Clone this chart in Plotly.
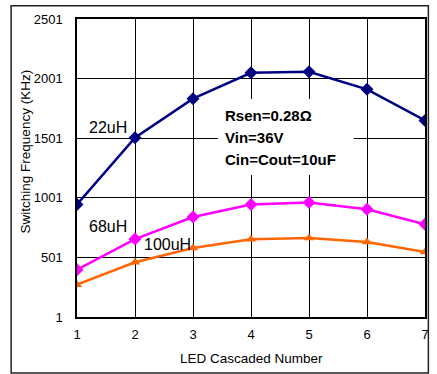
import plotly.graph_objects as go

led_count = [1, 2, 3, 4, 5, 6, 7]
freq_22uh = [945, 1505, 1833, 2050, 2059, 1911, 1650]
freq_68uh = [398, 655, 840, 945, 961, 905, 779]
freq_100uh = [272, 460, 580, 653, 664, 630, 546]
y_ticks = [1, 501, 1001, 1501, 2001, 2501]

font = "Liberation Sans, Arial, sans-serif"

fig = go.Figure()
fig.add_trace(go.Scatter(x=led_count, y=freq_22uh, mode="lines+markers", name="22uH",
                         line=dict(color="#000080", width=2.5),
                         marker=dict(symbol="diamond", size=10, color="#000080")))
fig.add_trace(go.Scatter(x=led_count, y=freq_68uh, mode="lines+markers", name="68uH",
                         line=dict(color="#FF00FF", width=2.5),
                         marker=dict(symbol="diamond", size=10, color="#FF00FF")))
fig.add_trace(go.Scatter(x=led_count, y=freq_100uh, mode="lines+markers", name="100uH",
                         line=dict(color="#FF6600", width=2.5),
                         marker=dict(symbol="triangle-up", size=9, color="#FF6600")))

# curve labels
fig.add_annotation(x=1.53, y=1589, text="22uH", showarrow=False, font=dict(size=16, color="black"))
fig.add_annotation(x=1.53, y=757, text="68uH", showarrow=False, font=dict(size=16, color="black"))
fig.add_annotation(x=2.56, y=609, text="100uH", showarrow=False, font=dict(size=16, color="black"))

# condition box
fig.add_shape(type="rect", x0=3.43, x1=5.77, y0=1192, y1=1830, layer="above",
              fillcolor="white", line=dict(width=0))
for yy, txt in [(1688, "Rsen=0.28Ω"), (1505, "Vin=36V"), (1326, "Cin=Cout=10uF")]:
    fig.add_annotation(x=3.51, y=yy, text="<b>" + txt + "</b>", showarrow=False, xanchor="left",
                       font=dict(size=15, color="black"))

# axis titles
fig.add_annotation(xref="paper", yref="paper", x=-0.1486, y=0.5566, xanchor="center", yanchor="middle",
                   text="Switching Frequency (KHz)", textangle=-90, showarrow=False,
                   font=dict(size=13.5, color="black"))
fig.add_annotation(xref="paper", yref="paper", x=0.5, y=-0.1397, xanchor="center", yanchor="middle",
                   text="LED Cascaded Number", showarrow=False, font=dict(size=13.5, color="black"))

# outer frame
fig.add_shape(type="rect", xref="paper", yref="paper", x0=-0.1893, x1=1.0097, y0=-0.1881, y1=1.0447,
              line=dict(color="#222222", width=1.5))

fig.update_xaxes(range=[1, 7], dtick=1, showgrid=True, gridcolor="black", gridwidth=1,
                 showline=True, linecolor="black", linewidth=1.5, mirror=True,
                 ticks="outside", ticklen=5, tickcolor="rgba(0,0,0,0)",
                 tickfont=dict(size=13, color="black"), zeroline=False)
fig.update_yaxes(range=[1, 2501], tickvals=y_ticks, showgrid=True, gridcolor="black", gridwidth=1,
                 showline=True, linecolor="black", linewidth=1.5, mirror=True,
                 ticks="outside", ticklen=10, tickcolor="rgba(0,0,0,0)",
                 tickfont=dict(size=13, color="black"), zeroline=False)

fig.update_layout(width=437, height=374, autosize=False, showlegend=False,
                  margin=dict(l=77, r=8, t=19, b=57),
                  plot_bgcolor="white", paper_bgcolor="white",
                  font=dict(family=font, color="black"))

fig.write_html("out.html", config={"displayModeBar": False},
               post_script="document.body.style.margin='0';")
